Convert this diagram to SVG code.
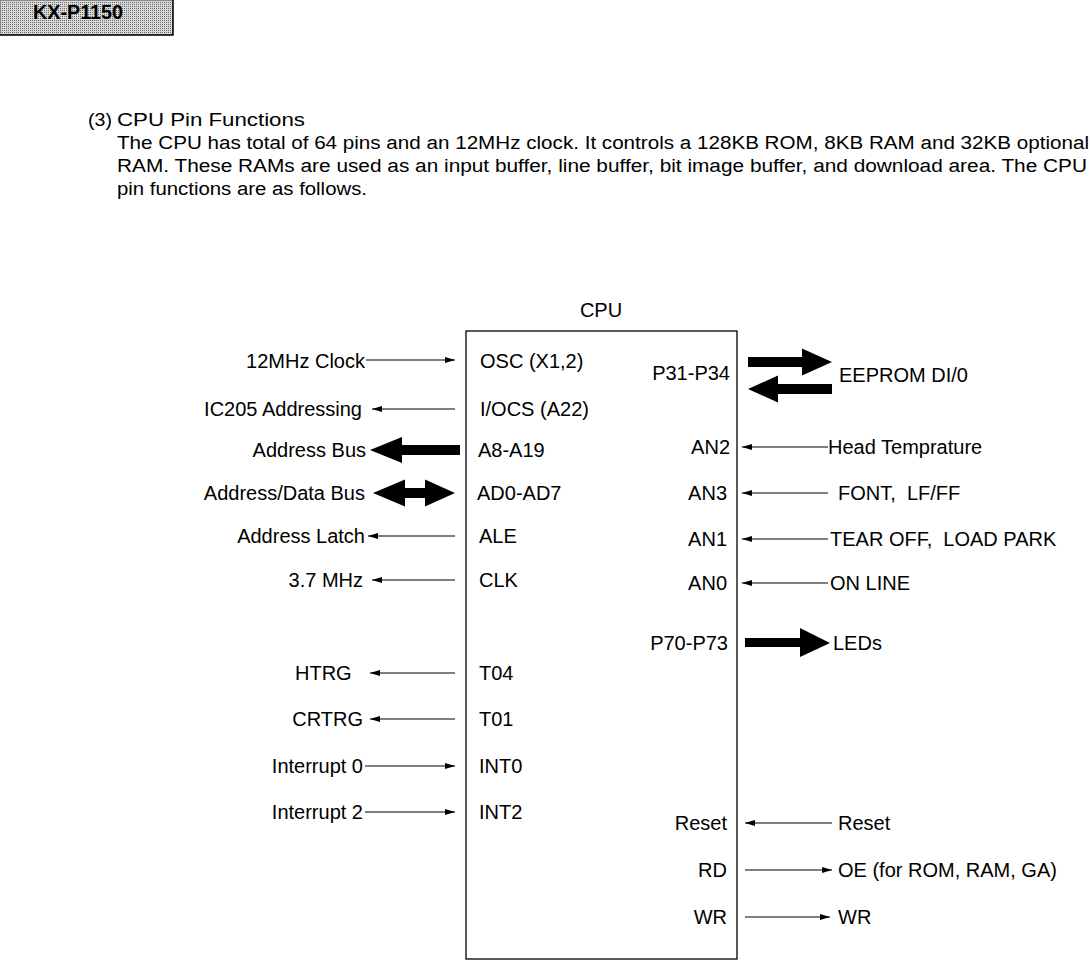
<svg xmlns="http://www.w3.org/2000/svg" width="1091" height="974" viewBox="0 0 1091 974">
<style>
text{font-family:"Liberation Sans",Arial,sans-serif;fill:#000}
.p{font-size:18px}
.l{font-size:20px;white-space:pre}
.e{text-anchor:end}
.w{stroke:#000;stroke-width:1.2;fill:none}
.big{fill:#000;stroke:none}
</style>
<defs>
<marker id="ah" viewBox="0 0 10 6" refX="10" refY="3" markerWidth="10" markerHeight="6" markerUnits="userSpaceOnUse" orient="auto">
<path d="M0,0 L10,3 L0,6 z" fill="#000"/>
</marker>
<pattern id="stip" width="2" height="2" patternUnits="userSpaceOnUse">
<rect width="2" height="2" fill="#d8d8d8"/>
<rect width="1" height="1" fill="#6a6a6a"/>
</pattern>
</defs>

<g id="header">
<rect x="0.5" y="0.5" width="172" height="34" fill="url(#stip)" stroke="#888" stroke-width="1"/>
<path d="M173,0 V35 H0" fill="none" stroke="#000" stroke-width="1.5"/>
<text x="33" y="19" style="font-size:19.5px;font-weight:bold" textLength="90" lengthAdjust="spacingAndGlyphs">KX-P1150</text>
</g>

<g id="intro">
<text class="p" x="88" y="126" textLength="24" lengthAdjust="spacingAndGlyphs">(3)</text>
<text class="p" x="117" y="126" textLength="188" lengthAdjust="spacingAndGlyphs">CPU Pin Functions</text>
<text class="p" x="117" y="149" textLength="972" lengthAdjust="spacingAndGlyphs">The CPU has total of 64 pins and an 12MHz clock. It controls a 128KB ROM, 8KB RAM and 32KB optional</text>
<text class="p" x="117" y="172" textLength="970" lengthAdjust="spacingAndGlyphs">RAM. These RAMs are used as an input buffer, line buffer, bit image buffer, and download area. The CPU</text>
<text class="p" x="117" y="195" textLength="250" lengthAdjust="spacingAndGlyphs">pin functions are as follows.</text>
</g>

<g id="cpu">
<text class="l" x="601" y="317" text-anchor="middle">CPU</text>
<rect x="466" y="331" width="271" height="628" fill="none" stroke="#000" stroke-width="1.3"/>
<text class="l" x="480" y="368">OSC (X1,2)</text>
<text class="l" x="480" y="416">I/OCS (A22)</text>
<text class="l" x="478" y="457">A8-A19</text>
<text class="l" x="477" y="500">AD0-AD7</text>
<text class="l" x="479" y="543">ALE</text>
<text class="l" x="479" y="587">CLK</text>
<text class="l" x="479" y="680">T04</text>
<text class="l" x="479" y="726">T01</text>
<text class="l" x="479" y="773">INT0</text>
<text class="l" x="479" y="819">INT2</text>
<text class="l e" x="730" y="380">P31-P34</text>
<text class="l e" x="730" y="454">AN2</text>
<text class="l e" x="727" y="500">AN3</text>
<text class="l e" x="727" y="546">AN1</text>
<text class="l e" x="727" y="590">AN0</text>
<text class="l e" x="728" y="650">P70-P73</text>
<text class="l e" x="727" y="830">Reset</text>
<text class="l e" x="727" y="877">RD</text>
<text class="l e" x="727" y="924">WR</text>
</g>

<g id="left-signals">
<text class="l e" x="365" y="368">12MHz Clock</text>
<text class="l e" x="362" y="416">IC205 Addressing</text>
<text class="l e" x="366" y="457">Address Bus</text>
<text class="l e" x="365" y="500">Address/Data Bus</text>
<text class="l e" x="365" y="543">Address Latch</text>
<text class="l e" x="363" y="587">3.7 MHz</text>
<text class="l" x="295" y="680">HTRG</text>
<text class="l e" x="363" y="726">CRTRG</text>
<text class="l e" x="363" y="773">Interrupt 0</text>
<text class="l e" x="363" y="819">Interrupt 2</text>
</g>

<g id="right-signals">
<text class="l" x="839" y="382">EEPROM DI/0</text>
<text class="l" x="828" y="454">Head Temprature</text>
<text class="l" x="838" y="500">FONT,  LF/FF</text>
<text class="l" x="830" y="546">TEAR OFF,  LOAD PARK</text>
<text class="l" x="830" y="590">ON LINE</text>
<text class="l" x="833" y="650">LEDs</text>
<text class="l" x="838" y="830">Reset</text>
<text class="l" x="838" y="877">OE (for ROM, RAM, GA)</text>
<text class="l" x="838" y="924">WR</text>
</g>

<g id="connectors">
<line class="w" x1="366" y1="360" x2="455" y2="360" marker-end="url(#ah)"/>
<line class="w" x1="455" y1="409" x2="372" y2="409" marker-end="url(#ah)"/>
<polygon class="big" points="370,450 402,437 402,445 460,445 460,455 402,455 402,463"/>
<polygon class="big" points="373,493 405,479.5 405,488 425,488 425,479.5 455,493 425,506.5 425,498 405,498 405,506.5"/>
<line class="w" x1="455" y1="536" x2="368" y2="536" marker-end="url(#ah)"/>
<line class="w" x1="455" y1="580" x2="372" y2="580" marker-end="url(#ah)"/>
<line class="w" x1="455" y1="673" x2="370" y2="673" marker-end="url(#ah)"/>
<line class="w" x1="455" y1="719" x2="370" y2="719" marker-end="url(#ah)"/>
<line class="w" x1="365" y1="766" x2="455" y2="766" marker-end="url(#ah)"/>
<line class="w" x1="365" y1="812" x2="455" y2="812" marker-end="url(#ah)"/>

<polygon class="big" points="748,357 802,357 802,348.5 832,362 802,375.5 802,367 748,367"/>
<polygon class="big" points="748,389 778,375.5 778,384 832,384 832,394 778,394 778,402.5"/>
<line class="w" x1="828" y1="447" x2="742" y2="447" marker-end="url(#ah)"/>
<line class="w" x1="828" y1="493" x2="742" y2="493" marker-end="url(#ah)"/>
<line class="w" x1="828" y1="539" x2="742" y2="539" marker-end="url(#ah)"/>
<line class="w" x1="828" y1="583" x2="742" y2="583" marker-end="url(#ah)"/>
<polygon class="big" points="745,638 800,638 800,628 830,643 800,657 800,647 745,647"/>
<line class="w" x1="832" y1="823" x2="745" y2="823" marker-end="url(#ah)"/>
<line class="w" x1="745" y1="870" x2="832" y2="870" marker-end="url(#ah)"/>
<line class="w" x1="745" y1="917" x2="830" y2="917" marker-end="url(#ah)"/>
</g>
</svg>
